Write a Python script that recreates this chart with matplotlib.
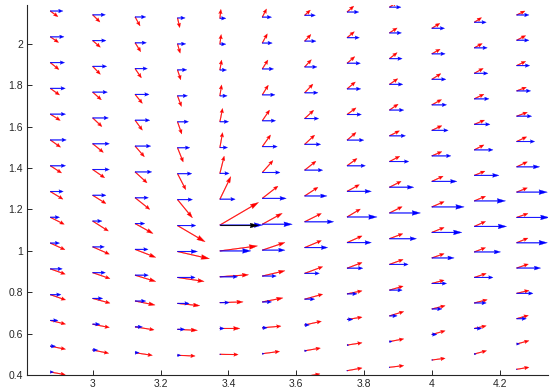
import numpy as np
import matplotlib
matplotlib.use("Agg")
import matplotlib.pyplot as plt

plt.rcParams["font.family"] = ["Liberation Sans", "DejaVu Sans"]

# grid: one x per column, rows start at col_ybot and step by col_ystep
col_x = [2.875, 3.0, 3.125, 3.25, 3.375, 3.5, 3.625, 3.75, 3.875, 4.0, 4.125, 4.25]
col_ybot = [0.4145, 0.5208, 0.5078, 0.4952, 0.5000, 0.5029, 0.3923, 0.4208, 0.4372, 0.4725, 0.5015, 0.4276]
col_ystep = [0.1246, 0.1246, 0.1248, 0.1254, 0.1249, 0.1251, 0.1247, 0.1238, 0.1243, 0.1233, 0.1233, 0.1223]

# red field (u right, v up), bottom row first, one list per column
red_u = [
    [15, 15.3, 15.3, 15.3, 15, 14.7, 14, 12.7, 11.3, 10.3, 10, 9.3, 8.7, 8.3, 7.7],
    [16, 16.7, 17.3, 17.3, 16.7, 15.7, 13.3, 12, 10.7, 9.3, 8.7, 7.7, 7.7, 7.3],
    [17.3, 19, 20, 20.7, 20.7, 18, 14.7, 12, 9.3, 7.3, 7.3, 6.3, 5.7, 5],
    [17.7, 20, 22.3, 26.7, 32, 27.7, 15, 8.3, 5.7, 4.3, 4, 3.3, 2.7, 2.3],
    [18.3, 20, 23.3, 28.7, 37.7, 38.7, 11, 4.3, 2.7, 2.7, 1.7, 1.7, 1.3, 1],
    [17.3, 18.7, 20.7, 22.7, 22.7, 20, 15.7, 10.7, 8.3, 7.3, 6, 5.7, 5, 4.3],
    [15.3, 15.7, 16.7, 18, 18, 16.7, 16.7, 13.3, 11.3, 10, 9, 8.3, 6.7, 6.3, 5.7],
    [15, 15, 15, 15, 15, 15, 13.3, 12.3, 10, 9, 9, 8.3, 7.7, 7.3, 6.7],
    [14.3, 14.3, 14.3, 13.7, 13.7, 13.3, 12.7, 11.7, 10.3, 10, 8.7, 8.3, 7.7, 7.7, 7.5],
    [13.3, 13.3, 13.3, 12.3, 12.3, 12.3, 12.3, 11.3, 10, 10, 9.7, 9, 8.3, 8],
    [12.3, 12, 13, 12, 11.3, 11.3, 11.3, 10.7, 9.7, 10.3, 9.7, 9, 8, 7.3],
    [12.3, 12.3, 11.7, 12.3, 11.7, 11.3, 11.3, 10.7, 10.7, 10, 10.7, 9.7, 9, 9, 8.3],
]
red_v = [
    [-2.7, -3, -3.7, -5.3, -5.3, -6.7, -7, -7.7, -7.3, -7.3, -6.3, -6.7, -7, -5.7, -5.7],
    [-3.3, -3.3, -4.7, -6, -7.3, -10, -8.3, -8.3, -8.7, -8.7, -7.7, -8, -6.7, -7.3],
    [-2.7, -3, -4, -6.3, -8, -10, -11.7, -11, -10.7, -10, -9, -9.3, -9, -9],
    [-0.7, -1, -2.3, -4, -7.3, -16.3, -18.3, -16, -14.3, -12.3, -10.7, -10, -9.3, -9.7],
    [-0.3, 0, 0.7, 2, 5, 22.7, 22.7, 17.3, 15, 13.3, 11, 10, 9.7, 9],
    [2.3, 1.7, 4, 5.3, 7.7, 11, 12.3, 12, 11.7, 10.7, 9.7, 9, 9.3, 8.3],
    [2.7, 2.7, 3.7, 5, 6.7, 7, 8.3, 8.7, 9, 9.3, 8.3, 8.7, 7.3, 6.7, 5.3],
    [2.7, 2.3, 2.3, 3, 5.7, 6.7, 8, 6.7, 7.3, 7.7, 6.7, 7, 6.7, 6, 6],
    [1.7, 2.7, 4.3, 4, 5, 5, 6.3, 6, 5.3, 5, 6, 5.7, 6, 5, 5],
    [1.7, 3.7, 3.3, 3.3, 4.3, 5, 5.3, 5.3, 4.3, 4.7, 5.3, 5.7, 4.7, 5],
    [3.3, 2.7, 3.3, 4, 4.3, 5, 4.7, 4.3, 5, 4.3, 4.7, 5, 4.3, 4.7],
    [2, 3.3, 3.3, 3, 4, 4.7, 4, 4.3, 5, 4.7, 4, 3.7, 4.3, 4.7, 4],
]
# blue field is horizontal, only its length changes
blue_u = [
    [3.3, 5.3, 7.7, 10.7, 12, 9.3, 9.3, 13, 15.3, 16, 15.3, 15, 14.3, 13.7, 12.7],
    [5, 7.3, 10, 12.7, 11.7, 9.3, 13.3, 16.7, 16.7, 15.7, 14.7, 14, 13.3, 12.7],
    [4, 7.3, 10.7, 13.3, 13, 9.7, 13.3, 16.7, 15.7, 14.7, 14, 12.3, 11.3, 10.7],
    [3.3, 7.3, 11.7, 17.7, 20, 18.3, 15, 14.3, 12.3, 11, 10, 9.3, 8.3, 7.7],
    [1, 4.3, 9.3, 17.7, 31, 42.7, 15.3, 9.3, 7.7, 8.7, 7.3, 6.7, 6, 6],
    [2, 5, 9.3, 14, 22.7, 30, 24, 17.7, 15, 13.3, 12.7, 11.3, 10, 9.3],
    [1, 2.3, 4.7, 10, 14.7, 23, 29, 22.3, 18, 16, 14, 13.3, 12.3, 11.3, 10.7],
    [0.5, 1.7, 5.7, 10, 15.7, 24.3, 30, 24.3, 18.3, 16.7, 14.3, 13.7, 13.3, 12.3, 11.7],
    [0.5, 2.7, 7.7, 12.7, 18.7, 27, 31, 24.3, 19.3, 16, 14.3, 13.3, 12.7, 12, 11.5],
    [1, 5, 10, 14.7, 22.3, 30, 32.3, 25, 19, 16.3, 14.7, 14, 13.3, 12.7],
    [2, 7.3, 12, 18.7, 26.3, 32.3, 31.3, 24.7, 18.7, 15.7, 14.7, 13.7, 13, 12],
    [0, 3, 9.7, 16.3, 24, 30.7, 32.3, 30.7, 23, 18, 15, 14, 13, 12.3, 12.3],
]

# the single black reference arrow (column 5, row 6)
black_col, black_row = 4, 5
black_u, black_v = 38.0, 0.0


def flatten_grid():
    xs, ys = [], []
    for x, y0, dy, col in zip(col_x, col_ybot, col_ystep, red_u):
        for k in range(len(col)):
            xs.append(x)
            ys.append(y0 + k * dy)
    return np.array(xs), np.array(ys)


def draw_arrows(ax, x, y, u, v, color):
    # matlab-style heads get longer with the arrow, so split by length
    x, y, u, v = map(np.atleast_1d, (x, y, u, v))
    length = np.hypot(u, v)
    head_bins = [(0, 20, 4.5, 5.5), (20, 30, 5.0, 8.0), (30, 1e9, 6.0, 10.5)]
    for lo, hi, hw, hl in head_bins:
        m = (length >= lo) & (length < hi)
        if not m.any():
            continue
        ax.quiver(x[m], y[m], u[m], v[m], color=color, edgecolor=color,
                  angles="uv", scale_units="dots", scale=1, units="dots",
                  width=0.8, headwidth=hw, headlength=hl, headaxislength=hl - 0.7,
                  pivot="tail", linewidth=0.2)


X, Y = flatten_grid()
RU = np.concatenate([np.array(c, float) for c in red_u])
RV = np.concatenate([np.array(c, float) for c in red_v])
BU = np.concatenate([np.array(c, float) for c in blue_u])
BV = np.zeros_like(BU)

fig = plt.figure(figsize=(5.56, 3.89), dpi=100)
ax = fig.add_axes([27 / 556, 14 / 389, 521 / 556, 370 / 389])

draw_arrows(ax, X, Y, RU, RV, "#ff0000")
draw_arrows(ax, X, Y, BU, BV, "#0000ff")
bx = col_x[black_col]
by = col_ybot[black_col] + black_row * col_ystep[black_col]
draw_arrows(ax, bx, by, black_u, black_v, "black")

ax.set_xlim(2.8063, 4.3423)
ax.set_ylim(0.4, 2.188)

xticks = [3, 3.2, 3.4, 3.6, 3.8, 4, 4.2]
xlabels = ["3", "3.2", "3.4", "3.6", "3.8", "4", "4.2"]
yticks = [0.4, 0.6, 0.8, 1, 1.2, 1.4, 1.6, 1.8, 2]
ylabels = ["0.4", "0.6", "0.8", "1", "1.2", "1.4", "1.6", "1.8", "2"]
ax.set_xticks(xticks)
ax.set_xticklabels(xlabels)
ax.set_yticks(yticks)
ax.set_yticklabels(ylabels)

for side in ["top", "right"]:
    ax.spines[side].set_visible(False)
for side in ["left", "bottom"]:
    ax.spines[side].set_color("#262626")
    ax.spines[side].set_linewidth(0.8)
ax.tick_params(direction="in", length=3.6, width=0.7, colors="#262626",
               labelsize=7.5, pad=3)

fig.savefig("out.png", dpi=100)
